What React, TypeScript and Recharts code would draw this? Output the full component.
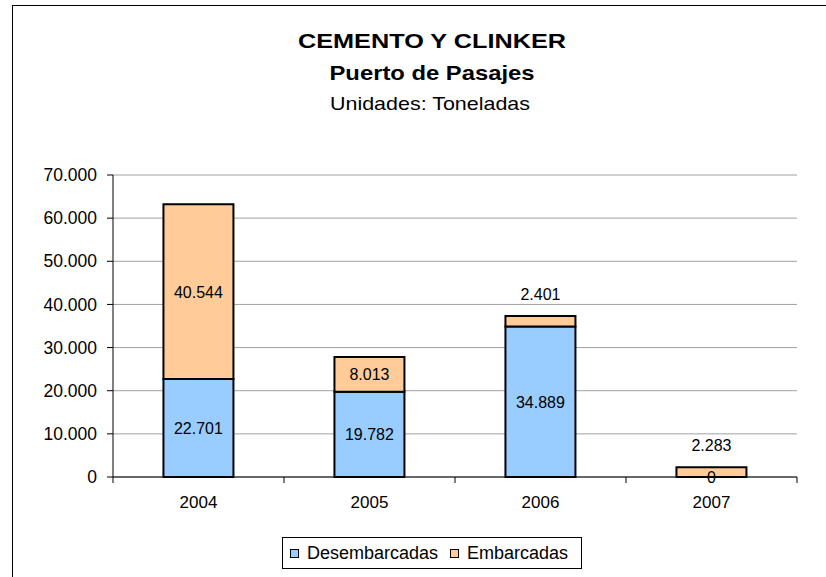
import { BarChart, Bar, XAxis, YAxis, CartesianGrid, LabelList } from 'recharts'

const years = ['2004', '2005', '2006', '2007']
const desembarcadas = [22701, 19782, 34889, 0]
const embarcadas = [40544, 8013, 2401, 2283]
const yTicks = [0, 10000, 20000, 30000, 40000, 50000, 60000, 70000]

const data = years.map((year, i) => ({
  year,
  desembarcadas: desembarcadas[i],
  embarcadas: embarcadas[i],
}))

const FONT = '"Liberation Sans", Arial, sans-serif'
const BLUE = '#99CCFF'
const ORANGE = '#FFCC99'

const CHART_W = 826
const CHART_H = 577
const margin = { top: 175, right: 29, bottom: 60, left: 33 }
const Y_AXIS_W = 80
const band = (CHART_W - margin.left - Y_AXIS_W - margin.right) / years.length

const fmt = (v: number) => String(v).replace(/\B(?=(\d{3})+(?!\d))/g, '.')

function YearTick(props: any) {
  const { x, y, payload, index } = props
  const left = x - band / 2
  const right = x + band / 2
  return (
    <g>
      <line x1={left} y1={y} x2={left} y2={y + 6} stroke="#000" />
      {index === years.length - 1 && <line x1={right} y1={y} x2={right} y2={y + 6} stroke="#000" />}
      <text x={x} y={y + 31} textAnchor="middle" fontFamily={FONT} fontSize={17} fill="#000">
        {payload.value}
      </text>
    </g>
  )
}

function ValueText({ x, y, value }: { x: number; y: number; value: number }) {
  return (
    <text x={x} y={y} dy={6} textAnchor="middle" fontFamily={FONT} fontSize={16} fill="#000">
      {fmt(value)}
    </text>
  )
}

function CenterLabel(props: any) {
  const { x, y, width, height, value } = props
  if (!value) return null // zero segment label is drawn on top of the stack instead
  return <ValueText x={x + width / 2} y={y + height / 2} value={value} />
}

function TopLabel(props: any) {
  const { x, y, width, height, value, index } = props
  const cx = x + width / 2
  // small segments get their label above the bar
  const ty = height < 20 ? y - 22 : y + height / 2
  return (
    <g>
      <ValueText x={cx} y={ty} value={value} />
      {desembarcadas[index] === 0 && <ValueText x={cx} y={y + height} value={0} />}
    </g>
  )
}

function LegendBox() {
  const item = (color: string, label: string, gap: number) => (
    <span style={{ display: 'inline-flex', alignItems: 'center', marginRight: gap }}>
      <span
        style={{
          display: 'inline-block',
          width: 7,
          height: 7,
          background: color,
          border: '1.5px solid #000',
          marginRight: 8,
        }}
      />
      {label}
    </span>
  )
  return (
    <div
      style={{
        position: 'absolute',
        left: 282,
        top: 537,
        width: 300,
        height: 32,
        border: '1px solid #000',
        display: 'flex',
        alignItems: 'center',
        paddingLeft: 7,
        boxSizing: 'border-box',
        fontFamily: FONT,
        fontSize: 18,
        color: '#000',
        whiteSpace: 'nowrap',
      }}
    >
      {item(BLUE, 'Desembarcadas', 12)}
      {item(ORANGE, 'Embarcadas', 0)}
    </div>
  )
}

function Titles() {
  return (
    <svg width={CHART_W} height={120} style={{ position: 'absolute', left: 0, top: 0 }}>
      <g fontFamily={FONT} fill="#000" textAnchor="middle">
        <text x={432} y={48} fontSize={21} fontWeight="bold" textLength={268} lengthAdjust="spacingAndGlyphs">
          CEMENTO Y CLINKER
        </text>
        <text x={432} y={80} fontSize={21} fontWeight="bold" textLength={205} lengthAdjust="spacingAndGlyphs">
          Puerto de Pasajes
        </text>
        <text x={430} y={110} fontSize={19} textLength={200} lengthAdjust="spacingAndGlyphs">
          Unidades: Toneladas
        </text>
      </g>
    </svg>
  )
}

export default function App() {
  return (
    <div
      style={{
        position: 'absolute',
        left: 0,
        top: 0,
        width: CHART_W,
        height: CHART_H,
        overflow: 'hidden',
        background: '#fff',
      }}
    >
      <div
        style={{
          position: 'absolute',
          left: 12,
          top: 5,
          width: 860,
          height: 620,
          border: '1px solid #000',
        }}
      />
      <Titles />
      <div style={{ position: 'absolute', left: 0, top: 0 }}>
        <BarChart width={CHART_W} height={CHART_H} data={data} margin={margin} barCategoryGap="29.5%">
          <CartesianGrid stroke="#a0a0a0" vertical={false} />
          <XAxis
            dataKey="year"
            axisLine={{ stroke: '#000' }}
            tickLine={false}
            tickSize={0}
            tickMargin={0}
            height={40}
            tick={<YearTick />}
            interval={0}
          />
          <YAxis
            width={Y_AXIS_W}
            domain={[0, 70000]}
            ticks={yTicks}
            tickFormatter={fmt}
            axisLine={{ stroke: '#000' }}
            tickLine={{ stroke: '#000' }}
            tickSize={6}
            tickMargin={10}
            tick={{ fontFamily: FONT, fontSize: 17.5, fill: '#000' }}
          />
          <YAxis
            yAxisId="frame"
            orientation="right"
            width={0}
            domain={[0, 70000]}
            tick={false}
            tickLine={false}
            axisLine={{ stroke: '#000' }}
          />
          <Bar dataKey="desembarcadas" stackId="a" fill={BLUE} stroke="#000" strokeWidth={2} isAnimationActive={false}>
            <LabelList dataKey="desembarcadas" content={<CenterLabel />} />
          </Bar>
          <Bar dataKey="embarcadas" stackId="a" fill={ORANGE} stroke="#000" strokeWidth={2} isAnimationActive={false}>
            <LabelList dataKey="embarcadas" content={<TopLabel />} />
          </Bar>
        </BarChart>
      </div>
      <LegendBox />
    </div>
  )
}
